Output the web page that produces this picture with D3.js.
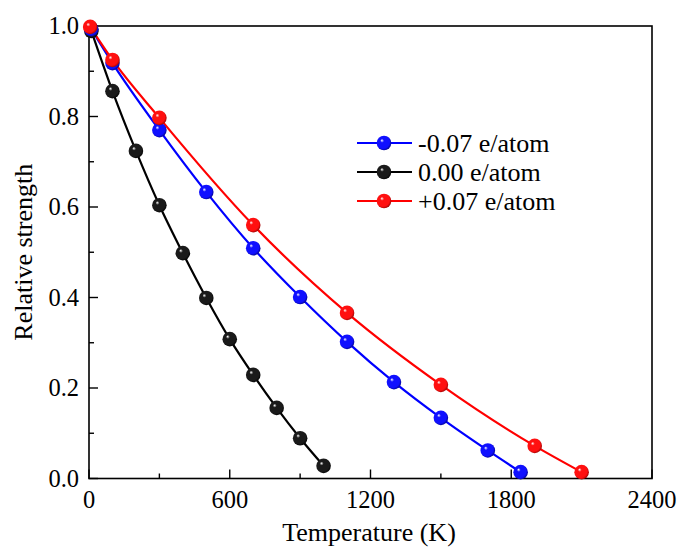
<!DOCTYPE html>
<html><head><meta charset="utf-8">
<script src="https://cdn.jsdelivr.net/npm/d3@7"></script>
<style>body{margin:0;background:#fff}</style>
</head><body><svg id="c" width="681" height="548"></svg>
<script>
const seriesNames = ["-0.07 e/atom", "0.00 e/atom", "+0.07 e/atom"];
const seriesColors = ["#0000ff", "#000000", "#ff0000"];
const tempNeg = [10, 100, 300, 500, 700, 900, 1100, 1300, 1500, 1700, 1840];
const valNeg  = [0.993, 0.918, 0.770, 0.633, 0.509, 0.401, 0.302, 0.213, 0.134, 0.062, 0.014];
const tempZero = [10, 100, 200, 300, 400, 500, 600, 700, 800, 900, 1000];
const valZero  = [0.989, 0.856, 0.724, 0.604, 0.498, 0.399, 0.308, 0.229, 0.156, 0.089, 0.028];
const tempPos = [5, 100, 300, 700, 1100, 1500, 1900, 2100];
const valPos  = [0.998, 0.925, 0.797, 0.560, 0.366, 0.207, 0.072, 0.014];
const xTicks = [0, 600, 1200, 1800, 2400];
const yTicks = [0.0, 0.2, 0.4, 0.6, 0.8, 1.0];

const svg = d3.select("#c");
const L = 89, R = 652, T = 26, B = 478.5;
const x = d3.scaleLinear().domain([0, 2400]).range([L, R]);
const y = d3.scaleLinear().domain([0, 1]).range([B, T]);
const font = "'Liberation Serif','Times New Roman',serif";

const defs = svg.append("defs");
const dark = ["#00007a", "#000000", "#8a0000"];
const mid = ["#1010ff", "#1a1a1a", "#ff1010"];
seriesColors.forEach((c, i) => {
  const g = defs.append("radialGradient").attr("id", "g" + i)
    .attr("cx", "0.45").attr("cy", "0.45").attr("r", "0.6").attr("fx", "0.35").attr("fy", "0.32");
  g.append("stop").attr("offset", "0").attr("stop-color", "#ffffff");
  g.append("stop").attr("offset", "0.22").attr("stop-color", mid[i]);
  g.append("stop").attr("offset", "0.75").attr("stop-color", mid[i]);
  g.append("stop").attr("offset", "1").attr("stop-color", dark[i]);
});

svg.append("rect").attr("x", L).attr("y", T).attr("width", R - L).attr("height", B - T)
  .attr("fill", "none").attr("stroke", "#000").attr("stroke-width", 1.6);

const xMinor = d3.range(300, 2400, 600);
xTicks.forEach(t => {
  svg.append("line").attr("x1", x(t)).attr("x2", x(t)).attr("y1", B).attr("y2", B - 9).attr("stroke", "#000").attr("stroke-width", 1.4);
  svg.append("text").attr("x", x(t)).attr("y", 508).attr("text-anchor", "middle")
    .attr("font-family", font).attr("font-size", 24.5).text(t);
});
xMinor.forEach(t => svg.append("line").attr("x1", x(t)).attr("x2", x(t)).attr("y1", B).attr("y2", B - 5).attr("stroke", "#000").attr("stroke-width", 1.4));
const yMinor = d3.range(0.1, 1.0, 0.2);
yTicks.forEach(t => {
  svg.append("line").attr("x1", L).attr("x2", L + 9).attr("y1", y(t)).attr("y2", y(t)).attr("stroke", "#000").attr("stroke-width", 1.4);
  svg.append("text").attr("x", L - 10).attr("y", y(t) + 8).attr("text-anchor", "end")
    .attr("font-family", font).attr("font-size", 24.5).text(t.toFixed(1));
});
yMinor.forEach(t => svg.append("line").attr("x1", L).attr("x2", L + 5).attr("y1", y(t)).attr("y2", y(t)).attr("stroke", "#000").attr("stroke-width", 1.4));

svg.append("text").attr("x", 369).attr("y", 541).attr("text-anchor", "middle")
  .attr("font-family", font).attr("font-size", 26).text("Temperature (K)");
svg.append("text").attr("transform", `translate(32,${(T + B) / 2}) rotate(-90)`).attr("text-anchor", "middle")
  .attr("font-family", font).attr("font-size", 26).text("Relative strength");

const data = [
  tempNeg.map((t, i) => [t, valNeg[i]]),
  tempZero.map((t, i) => [t, valZero[i]]),
  tempPos.map((t, i) => [t, valPos[i]])
];
const line = d3.line().x(d => x(d[0])).y(d => y(d[1])).curve(d3.curveMonotoneX);
const order = [1, 0, 2];
order.forEach(i => {
  svg.append("path").attr("d", line(data[i])).attr("fill", "none").attr("stroke", seriesColors[i]).attr("stroke-width", 2.2);
});
order.forEach(i => {
  svg.selectAll(null).data(data[i]).enter().append("circle")
    .attr("cx", d => x(d[0])).attr("cy", d => y(d[1])).attr("r", 7.3)
    .attr("fill", `url(#g${i})`);
});

const ly = [143, 172, 201];
seriesNames.forEach((n, i) => {
  svg.append("line").attr("x1", 357).attr("x2", 412).attr("y1", ly[i]).attr("y2", ly[i]).attr("stroke", seriesColors[i]).attr("stroke-width", 2.2);
  svg.append("circle").attr("cx", 384).attr("cy", ly[i]).attr("r", 7.3).attr("fill", `url(#g${i})`);
  svg.append("text").attr("x", 418).attr("y", ly[i] + 9).attr("font-family", font).attr("font-size", 26).text(n);
});
</script></body></html>
